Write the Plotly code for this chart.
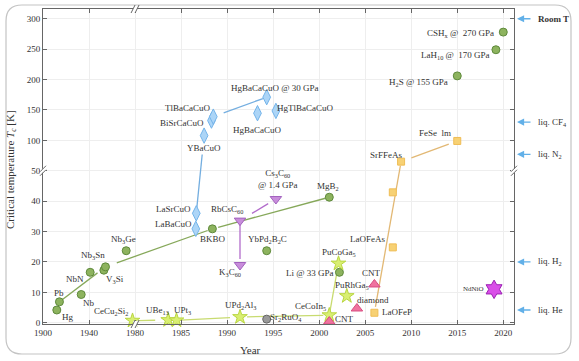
import re
import math
import plotly.graph_objects as go

# ---------------- data (years, critical temperature in K) ----------------
conv_labels = ["Hg", "Pb", "Nb", "NbN", "V<sub>3</sub>Si", "Nb<sub>3</sub>Sn", "Nb<sub>3</sub>Ge",
               "BKBO", "YbPd<sub>2</sub>B<sub>2</sub>C", "MgB<sub>2</sub>", "Li @ 33 GPa",
               "H<sub>2</sub>S @ 155 GPa", "LaH<sub>10</sub> @  170 GPa", "CSH<sub>x</sub> @  270 GPa"]
conv_year = [1912, 1914.3, 1933.2, 1941, 1952.9, 1954.3, 1972.3, 1988.4, 1994.3, 2001.1, 2002.2,
             2015.0, 2019.2, 2020.0]
conv_tc = [4.2, 6.9, 9.3, 16.6, 17.3, 18.4, 23.7, 30.9, 23.7, 41.3, 16.6, 206, 249, 278]

cup_labels = ["LaBaCuO", "LaSrCuO", "YBaCuO", "BiSrCaCuO", "TlBaCaCuO", "HgBaCaCuO",
              "HgTlBaCaCuO", "HgBaCaCuO @ 30 GPa"]
cup_year = [1986.6, 1986.65, 1987.5, 1988.3, 1988.5, 1993.3, 1995.3, 1994.3]
cup_tc = [30.9, 36.0, 107.8, 132.5, 139, 144.6, 148.4, 171]

ful_labels = ["K<sub>3</sub>C<sub>60</sub>", "RbCsC<sub>60</sub>", "Cs<sub>3</sub>C<sub>60</sub><br>@ 1.4 GPa"]
ful_year = [1991.4, 1991.4, 1995.3]
ful_tc = [19.0, 33.6, 40.7]

hf_labels = ["CeCu<sub>2</sub>Si<sub>2</sub>", "UBe<sub>13</sub>", "UPt<sub>3</sub>", "UPd<sub>2</sub>Al<sub>3</sub>",
             "CeCoIn<sub>5</sub>", "PuCoGa<sub>5</sub>", "PuRhGa<sub>5</sub>"]
hf_year = [1977.8, 1983.6, 1984.5, 1991.4, 2001.1, 2002.1, 2003.0]
hf_tc = [0.7, 0.9, 0.8, 1.9, 2.5, 19.5, 8.8]

c_labels = ["CNT", "diamond", "CNT"]
c_year = [2001.1, 2004.1, 2006.0]
c_tc = [0.4, 4.7, 12.6]

fe_labels = ["LaOFeP", "LaOFeAs", "", "SrFFeAs", "FeSe  lm"]
fe_year = [2006.0, 2008.0, 2008.0, 2008.9, 2015.0]
fe_tc = [3.3, 24.8, 42.9, 65, 99]

ru_labels = ["Sr<sub>2</sub>RuO<sub>4</sub>"]
ru_year = [1994.3]
ru_tc = [1.2]

ni_labels = ["NdNiO"]
ni_year = [2019.0]
ni_tc = [11.0]

cool_labels = ["<b>Room T</b>", "liq. CF<sub>4</sub>", "liq. N<sub>2</sub>", "liq. H<sub>2</sub>", "liq. He"]
cool_tc = [300, 130, 77, 20, 4.2]

x_ticks = [1900, 1940, 1980, 1985, 1990, 1995, 2000, 2005, 2010, 2015, 2020]
y_ticks = [0, 10, 20, 30, 40, 50, 100, 150, 200, 250, 300]

# ---------------- broken-axis scales ----------------
def tx(year):
    return (year - 1980) / 5 if year >= 1980 else (year - 1980) / 40

def ty(k):
    return k / 10 if k <= 50 else 5 + (k - 50) / 50

W, H = 579, 361
ML, MR, MT, MB = 43, 65, 9, 37
PW, PH = W - ML - MR, H - MT - MB
XR = [-2, 8.233]
YR = [-0.04, 10.32]
PXX = PW / (XR[1] - XR[0])
PXY = PH / (YR[1] - YR[0])

FONT = "Liberation Serif, Times New Roman, DejaVu Serif, serif"
TXT = "#333333"

# ---------------- styles ----------------
fams = [
    dict(lab=conv_labels, yr=conv_year, tc=conv_tc, sym="circle", size=8, fill="#8db35e", edge="#5f8a3c",
         off=[(11, 7), (0, -9), (8, 8), (-15, 7), (11, 9), (-12, -11), (-3, -11), (1, 10), (1, -11),
              (-1, -11), (-29, 1), (-39, 7), (-40, 6), (-43, 1)]),
    dict(lab=cup_labels, yr=cup_year, tc=cup_tc, sym="diamond-tall", size=11, fill="#acd5f7", edge="#74b4ea",
         off=[(-22, -5), (-23, -4), (0, 12), (-29, 2), (-26, -9), (0, 17), (29, -3), (8, -9)]),
    dict(lab=ful_labels, yr=ful_year, tc=ful_tc, sym="triangle-down", size=10, fill="#c88ddb", edge="#a262be",
         off=[(-10, 7), (-13, -11), (2, -20)]),
    dict(lab=hf_labels, yr=hf_year, tc=hf_tc, sym="star", size=11, fill="#d9ef72", edge="#b9d640",
         off=[(-22, -9), (-11, -10), (6, -10), (0, -12), (-19, -9), (0, -11), (5, -11)]),
    dict(lab=c_labels, yr=c_year, tc=c_tc, sym="triangle-up", size=10, fill="#ef739f", edge="#d94c80",
         off=[(15, -3), (16, -8), (-3, -11)]),
    dict(lab=fe_labels, yr=fe_year, tc=fe_tc, sym="square", size=7, fill="#f7d174", edge="#efbd55",
         off=[(23, -1), (-25, -8), (0, 0), (-15, -7), (-22, -8)]),
    dict(lab=ru_labels, yr=ru_year, tc=ru_tc, sym="circle", size=8, fill="#9a9a9a", edge="#666666",
         off=[(19, -2)]),
    dict(lab=ni_labels, yr=ni_year, tc=ni_tc, sym="hexagram", size=14, fill="#d94ee8", edge="#9b22b3",
         off=[(-21, 0)], fs=7),
]

def key(label):
    return re.sub(r"<[^>]+>", "", label.split("<br>")[0]).strip()

pos = {}
for f in fams:
    for l, y, k in zip(f["lab"], f["yr"], f["tc"]):
        if l:
            pos[key(l)] = (tx(y), ty(k))

segments = [
    ("Pb", "Nb3Sn", 3, 10, "#86a85a"), ("Nb3Sn", "BKBO", 12, 5, "#86a85a"), ("BKBO", "MgB2", 6, 4, "#86a85a"),
    ("LaSrCuO", "YBaCuO", 5, 19, "#74aee0"), ("TlBaCaCuO", "HgBaCaCuO @ 30 GPa", 11, 4, "#74aee0"),
    ("RbCsC60", "K3C60", 3, 6, "#b26ccb"), ("RbCsC60", "Cs3C60", 14, 9, "#b26ccb"),
    ("CeCu2Si2", "UBe13", 6, 13, "#c8db70"), ("UPt3", "UPd2Al3", 4, 10, "#c8db70"),
    ("UPd2Al3", "CeCoIn5", 7, 6, "#c8db70"), ("CeCoIn5", "PuCoGa5", 3, 8, "#c8db70"),
    ("LaOFeP", "SrFFeAs", 6, 4, "#e2b874"), ("SrFFeAs", "FeSe  lm", 11, 9, "#e2b874"),
]

fig = go.Figure()

for a, b, ga, gb, col in segments:
    (x0, y0), (x1, y1) = pos[a], pos[b]
    L = math.hypot((x1 - x0) * PXX, (y1 - y0) * PXY)
    f0, f1 = ga / L, 1 - gb / L
    fig.add_trace(go.Scatter(x=[x0 + (x1 - x0) * f0, x0 + (x1 - x0) * f1],
                             y=[y0 + (y1 - y0) * f0, y0 + (y1 - y0) * f1],
                             mode="lines", line=dict(color=col, width=1.3),
                             showlegend=False, hoverinfo="skip"))

annots = []
for f in fams:
    fig.add_trace(go.Scatter(x=[tx(y) for y in f["yr"]], y=[ty(k) for k in f["tc"]], mode="markers",
                             marker=dict(symbol=f["sym"], size=f["size"], color=f["fill"],
                                         line=dict(color=f["edge"], width=1)),
                             cliponaxis=False, showlegend=False, hoverinfo="skip"))
    for l, y, k, (dx, dy) in zip(f["lab"], f["yr"], f["tc"], f["off"]):
        if not l:
            continue
        annots.append(dict(x=tx(y), y=ty(k), xref="x", yref="y", text=l, showarrow=False,
                           xshift=dx, yshift=-dy, xanchor="center", yanchor="middle",
                           font=dict(family=FONT, size=f.get("fs", 9), color=TXT)))

# coolant reference arrows and labels
for l, k in zip(cool_labels, cool_tc):
    annots.append(dict(x=(517 - ML) / PW, y=ty(k), xref="paper", yref="y", text="", showarrow=True,
                       ax=15, ay=0, axref="pixel", ayref="pixel",
                       arrowhead=2, arrowsize=1.1, arrowwidth=1.3, arrowcolor="#62b0e8"))
    annots.append(dict(x=(536 - ML) / PW, y=ty(k), xref="paper", yref="y", text=l, showarrow=False,
                       xanchor="left", yanchor="middle", font=dict(family=FONT, size=9, color=TXT)))

# axis titles
annots.append(dict(x=(250 - ML) / PW, y=1 - (350 - MT) / PH, xref="paper", yref="paper", text="Year",
                   showarrow=False, xanchor="center", yanchor="middle",
                   font=dict(family=FONT, size=11, color=TXT)))
annots.append(dict(x=(11 - ML) / PW, y=1 - (170 - MT) / PH, xref="paper", yref="paper",
                   text="Critical temperature <i>T</i><sub><i>c</i></sub> [K]", textangle=-90,
                   showarrow=False, xanchor="center", yanchor="middle",
                   font=dict(family=FONT, size=11, color=TXT)))

shapes = []
# rounded outer frame
x0p, x1p = (6 - ML) / PW, (571 - ML) / PW
y0p, y1p = 1 - (354 - MT) / PH, 1 - (5 - MT) / PH
rx, ry = 16 / PW, 16 / PH
def n(v):
    return f"{v:.5f}"
path = (f"M{n(x0p + rx)},{n(y1p)} L{n(x1p - rx)},{n(y1p)} Q{n(x1p)},{n(y1p)} {n(x1p)},{n(y1p - ry)} "
        f"L{n(x1p)},{n(y0p + ry)} Q{n(x1p)},{n(y0p)} {n(x1p - rx)},{n(y0p)} L{n(x0p + rx)},{n(y0p)} "
        f"Q{n(x0p)},{n(y0p)} {n(x0p)},{n(y0p + ry)} L{n(x0p)},{n(y1p - ry)} Q{n(x0p)},{n(y1p)} {n(x0p + rx)},{n(y1p)} Z")
shapes.append(dict(type="path", xref="paper", yref="paper", path=path,
                   line=dict(color="#c4c4c4", width=1.2), layer="above"))

# axis break marks
def vbreak(xa):
    out = [dict(type="rect", xref="paper", yref="y", xsizemode="pixel", ysizemode="pixel",
                xanchor=xa, yanchor=ty(50), x0=-3, x1=3, y0=-2, y1=2,
                fillcolor="white", line=dict(width=0), layer="above")]
    for d in (-2, 2):
        out.append(dict(type="line", xref="paper", yref="y", xsizemode="pixel", ysizemode="pixel",
                        xanchor=xa, yanchor=ty(50), x0=-3, x1=3, y0=-3 + d, y1=3 + d,
                        line=dict(color="#666666", width=1), layer="above"))
    return out

def hbreak(ya):
    out = [dict(type="rect", xref="x", yref="paper", xsizemode="pixel", ysizemode="pixel",
                xanchor=tx(1980), yanchor=ya, x0=-2, x1=2, y0=-3, y1=3,
                fillcolor="white", line=dict(width=0), layer="above")]
    for d in (-2, 2):
        out.append(dict(type="line", xref="x", yref="paper", xsizemode="pixel", ysizemode="pixel",
                        xanchor=tx(1980), yanchor=ya, x0=-2 + d, x1=2 + d, y0=-4, y1=4,
                        line=dict(color="#666666", width=1), layer="above"))
    return out

shapes += vbreak(0) + vbreak(1) + hbreak(1) + hbreak(0)

axis_common = dict(showline=True, linecolor="#666666", linewidth=1, mirror="ticks", ticks="inside",
                   ticklen=4, tickcolor="#666666", showgrid=True, gridcolor="#eeeeee", gridwidth=1,
                   zeroline=False, tickfont=dict(family=FONT, size=9, color=TXT), automargin=False)

fig.update_layout(
    width=W, height=H, autosize=False,
    margin=dict(l=ML, r=MR, t=MT, b=MB, pad=0),
    paper_bgcolor="white", plot_bgcolor="white",
    xaxis=dict(range=XR, tickmode="array", tickvals=[tx(v) for v in x_ticks],
               ticktext=[str(v) for v in x_ticks], **axis_common),
    yaxis=dict(range=YR, tickmode="array", tickvals=[ty(v) for v in y_ticks],
               ticktext=[str(v) for v in y_ticks], **axis_common),
    annotations=annots, shapes=shapes, showlegend=False,
)

fig.write_html("out.html", config={"displayModeBar": False},
               post_script="document.body.style.margin='0';document.body.style.padding='0';")
